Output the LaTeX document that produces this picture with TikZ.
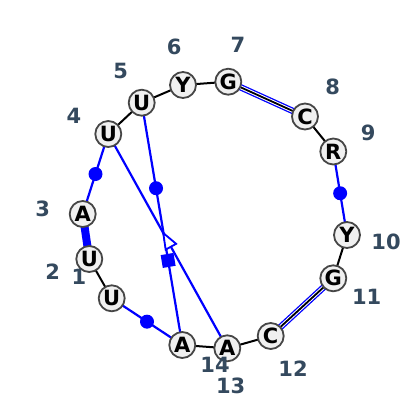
\documentclass[tikz,border=0pt]{standalone}
\usepackage{fontspec}
\setmainfont{DejaVu Sans}
\usetikzlibrary{calc}
\definecolor{numcol}{RGB}{52,73,94}
\definecolor{basefill}{RGB}{240,240,240}
\definecolor{basedraw}{RGB}{70,70,70}
\tikzset{
  base/.style={circle, draw=basedraw, fill=basefill, line width=1.8pt,
    minimum size=26pt, inner sep=0pt, font=\fontsize{21}{21}\selectfont\bfseries},
  num/.style={text=numcol, inner sep=0pt, font=\fontsize{21}{21}\selectfont\bfseries},
  bb/.style={black, line width=2pt},
  pair/.style={blue, line width=2.2pt},
  stack/.style={blue, line width=8pt, line cap=round},
  dot/.style={circle, fill=blue, inner sep=0pt, minimum size=14pt},
  sq/.style={rectangle, fill=blue, inner sep=0pt, minimum size=13pt},
  tri/.style={blue, fill=white, line width=1.8pt, line join=miter}
}
\begin{document}
\begin{tikzpicture}[x=1pt, y=-1pt, line join=round, line cap=round]
\useasboundingbox (0,0) rectangle (400,400);

\coordinate (U1)  at (111.7,298.3);
\coordinate (U2)  at (89.3,259.0);
\coordinate (A3)  at (82.7,214.0);
\coordinate (U4)  at (108.3,134.0);
\coordinate (U5)  at (141.7,102.7);
\coordinate (Y6)  at (183.0,85.0);
\coordinate (G7)  at (228.3,81.7);
\coordinate (C8)  at (305.0,116.5);
\coordinate (R9)  at (333.3,151.5);
\coordinate (Y10) at (347.0,235.0);
\coordinate (G11) at (333.3,278.3);
\coordinate (C12) at (270.7,336.0);
\coordinate (A13) at (227.3,348.3);
\coordinate (A14) at (182.3,345.0);

% backbone
\draw[bb] (U1) -- (U2);
\draw[bb] (U4) -- (U5);
\draw[bb] (U5) -- (Y6);
\draw[bb] (Y6) -- (G7);
\draw[bb] (C8) -- (R9);
\draw[bb] (Y10) -- (G11);
\draw[bb] (C12) -- (A13);
\draw[bb] (A13) -- (A14);

% canonical pairs
\foreach \a/\b in {G7/C8, G11/C12} {
  \draw[blue, line width=6.4pt] (\a) -- (\b);
  \draw[white, line width=3.8pt] (\a) -- (\b);
  \draw[black, line width=1.8pt] (\a) -- (\b);
}

% stacking
\draw[stack] (A3) -- (U2);

% non-canonical pairs
\draw[pair] (A3) -- (U4) node[dot, midway] (d34) {};
\draw[pair] (R9) -- (Y10) node[dot, midway] (d910) {};
\draw[pair] (A14) -- (U1) node[dot, midway] (d141) {};
\draw[pair] (U5) -- (A14)
  node[dot, pos=0.353] (d514) {}
  node[sq, sloped, pos=0.651] (s514) {};
\draw[pair] (U4) -- (A13);

\coordinate (tApex) at ($(U4)!0.462!(A13)$);
\coordinate (tBase) at ($(U4)!0.526!(A13)$);
\draw[tri] (tApex) -- ($(tBase)!6pt!90:(tApex)$) -- ($(tBase)!6pt!-90:(tApex)$) -- cycle;

% bases
\foreach \i/\s in {U1/U, U2/U, A3/A, U4/U, U5/U, Y6/Y, G7/G, C8/C, R9/R,
                   Y10/Y, G11/G, C12/C, A13/A, A14/A}
  \node[base] (n\i) at (\i) {\s};

% numbering
\node[num] (l1)  at (79.0,277.3)  {1};
\node[num] (l2)  at (52.7,271.7)  {2};
\node[num] (l3)  at (42.7,209.3)  {3};
\node[num] (l4)  at (74.0,116.0)  {4};
\node[num] (l5)  at (120.7,70.7)  {5};
\node[num] (l6)  at (174.3,47.3)  {6};
\node[num] (l7)  at (238.0,45.0)  {7};
\node[num] (l8)  at (332.7,87.3)  {8};
\node[num] (l9)  at (368.3,133.3) {9};
\node[num] (l10) at (386.0,241.7) {10};
\node[num] (l11) at (366.7,296.7) {11};
\node[num] (l12) at (293.0,369.0) {12};
\node[num] (l13) at (230.7,386.0) {13};
\node[num] (l14) at (215.0,365.0) {14};

\end{tikzpicture}
\end{document}
